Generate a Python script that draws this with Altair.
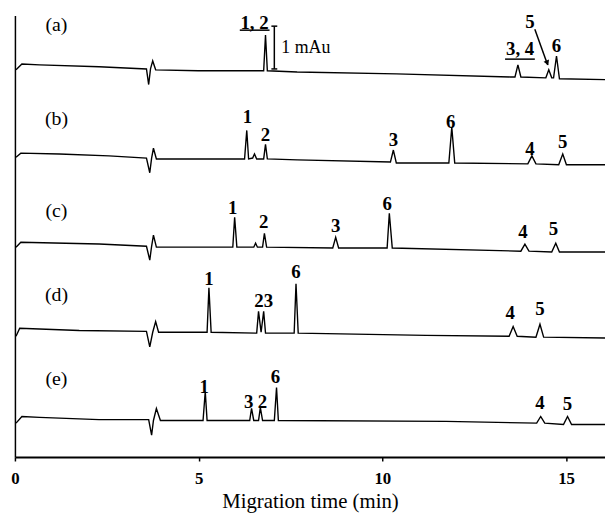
import altair as alt
import pandas as pd

# ---- traces (time in min, signal in mAU incl. vertical offset) ----
a_t = [0.03, 0.19, 0.67, 2.29, 3.58, 3.64, 3.69, 3.75, 3.83, 4.99, 6.77, 6.82, 6.87, 7.68, 10.38, 13.48, 13.61, 13.69, 13.77, 14.45, 14.53, 14.61, 14.66, 14.74, 14.82, 16.06]
a_v = [8.69, 8.82, 8.80, 8.76, 8.71, 8.36, 8.71, 8.89, 8.69, 8.67, 8.67, 9.47, 8.67, 8.64, 8.60, 8.53, 8.53, 8.80, 8.53, 8.51, 8.69, 8.51, 8.51, 9.00, 8.49, 8.47]

b_t = [0.03, 0.16, 1.21, 2.56, 3.58, 3.67, 3.72, 3.77, 3.85, 6.25, 6.31, 6.36, 6.47, 6.52, 6.58, 6.77, 6.82, 6.87, 7.68, 10.22, 10.30, 10.38, 11.81, 11.89, 11.97, 13.96, 14.07, 14.18, 14.80, 14.91, 15.01, 16.06]
b_v = [6.73, 6.82, 6.80, 6.76, 6.71, 6.38, 6.71, 6.93, 6.69, 6.69, 7.33, 6.69, 6.71, 6.80, 6.69, 6.69, 7.02, 6.69, 6.67, 6.62, 6.89, 6.60, 6.60, 7.40, 6.60, 6.58, 6.76, 6.58, 6.56, 6.80, 6.56, 6.56]

c_t = [0.03, 0.16, 2.29, 3.58, 3.67, 3.72, 3.77, 3.85, 5.93, 5.98, 6.04, 6.50, 6.55, 6.60, 6.74, 6.79, 6.85, 8.65, 8.73, 8.81, 10.13, 10.19, 10.27, 13.77, 13.88, 13.99, 14.61, 14.72, 14.82, 16.06]
c_v = [4.71, 4.82, 4.78, 4.73, 4.42, 4.73, 4.98, 4.71, 4.71, 5.38, 4.71, 4.71, 4.80, 4.71, 4.71, 5.02, 4.71, 4.69, 4.93, 4.69, 4.69, 5.47, 4.69, 4.62, 4.78, 4.62, 4.60, 4.80, 4.60, 4.60]

d_t = [0.03, 0.13, 1.75, 3.58, 3.67, 3.75, 3.83, 3.91, 5.23, 5.28, 5.34, 6.58, 6.63, 6.70, 6.77, 6.82, 7.60, 7.65, 7.71, 11.19, 13.45, 13.56, 13.67, 14.18, 14.29, 14.39, 16.06]
d_v = [2.71, 2.89, 2.84, 2.82, 2.47, 2.80, 3.04, 2.80, 2.80, 3.80, 2.80, 2.78, 3.27, 2.80, 3.27, 2.78, 2.78, 3.89, 2.78, 2.73, 2.71, 2.93, 2.71, 2.69, 2.98, 2.69, 2.67]

e_t = [0.03, 0.19, 0.67, 2.29, 3.64, 3.72, 3.77, 3.85, 3.96, 5.12, 5.18, 5.23, 6.39, 6.44, 6.50, 6.63, 6.68, 6.74, 7.06, 7.12, 7.17, 11.73, 14.20, 14.31, 14.42, 14.93, 15.04, 15.15, 16.06]
e_v = [0.76, 0.91, 0.89, 0.84, 0.84, 0.49, 0.82, 1.09, 0.82, 0.82, 1.47, 0.82, 0.82, 1.09, 0.82, 0.82, 1.11, 0.82, 0.82, 1.56, 0.82, 0.80, 0.76, 0.91, 0.76, 0.73, 0.91, 0.73, 0.73]

# ---- labels ----
trace_names = ["(a)", "(b)", "(c)", "(d)", "(e)"]
trace_label_t = [1.13, 1.13, 1.13, 1.13, 1.13]
trace_label_v = [9.69, 7.58, 5.53, 3.64, 1.76]

peak_text = ["1, 2", "3, 4", "5", "6",
             "1", "2", "3", "6", "4", "5",
             "1", "2", "3", "6", "4", "5",
             "1", "23", "6", "4", "5",
             "1", "3", "2", "6", "4", "5"]
peak_t = [6.52, 13.75, 14.02, 14.74,
          6.33, 6.82, 10.30, 11.86, 14.02, 14.91,
          5.93, 6.77, 8.73, 10.13, 13.83, 14.66,
          5.28, 6.77, 7.65, 13.48, 14.29,
          5.15, 6.36, 6.74, 7.09, 14.29, 15.04]
peak_v = [9.73, 9.16, 9.76, 9.22,
          7.64, 7.22, 7.11, 7.51, 6.91, 7.07,
          5.58, 5.27, 5.18, 5.67, 5.04, 5.11,
          4.00, 3.49, 4.16, 3.24, 3.33,
          1.58, 1.24, 1.24, 1.80, 1.22, 1.18]

# rules: underlines, scale bar with caps, arrow shaft
rule_t = [6.12, 13.34, 7.06, 6.98, 6.98, 14.15]
rule_t2 = [6.93, 14.15, 7.06, 7.14, 7.14, 14.50]
rule_v = [9.58, 8.93, 9.67, 9.67, 8.71, 9.60]
rule_v2 = [9.58, 8.93, 8.71, 9.67, 8.71, 8.80]

scale_text = ["1 mAu"]
scale_text_t = [7.25]
scale_text_v = [9.18]

arrow_head_t = [14.48]
arrow_head_v = [8.86]

# ---- tables ----
rows = []
for name, ts, vs in [("a", a_t, a_v), ("b", b_t, b_v), ("c", c_t, c_v), ("d", d_t, d_v), ("e", e_t, e_v)]:
    for i, (t, v) in enumerate(zip(ts, vs)):
        rows.append({"trace": name, "i": i, "t": t, "v": v})
df = pd.DataFrame(rows)

df_tl = pd.DataFrame({"t": trace_label_t, "v": trace_label_v, "text": trace_names})
df_pl = pd.DataFrame({"t": peak_t, "v": peak_v, "text": peak_text})
df_rules = pd.DataFrame({"t": rule_t, "t2": rule_t2, "v": rule_v, "v2": rule_v2})
df_st = pd.DataFrame({"t": scale_text_t, "v": scale_text_v, "text": scale_text})
df_ah = pd.DataFrame({"t": arrow_head_t, "v": arrow_head_v})

FONT = "Liberation Serif, Times New Roman, serif"
xs = alt.Scale(domain=[0, 16.06], nice=False, zero=False)
ys = alt.Scale(domain=[0, 9.91], nice=False, zero=False)

x_axis = alt.Axis(
    values=[0, 5, 10, 15], title="Migration time (min)", grid=False,
    domainColor="black", domainWidth=2, tickColor="black", tickWidth=1.5, tickSize=4,
    labelFont=FONT, labelFontWeight="bold", labelFontSize=17, labelColor="black",
    labelPadding=10, labelFlush=False,
    titleFont=FONT, titleFontSize=21, titleFontWeight="normal", titleColor="black",
    titlePadding=4)
y_axis = alt.Axis(title=None, labels=False, ticks=False, grid=False,
                  domainColor="black", domainWidth=1.5)

X = alt.X("t:Q", scale=xs, axis=x_axis, title="Migration time (min)")
Y = alt.Y("v:Q", scale=ys, axis=y_axis, title=None)

lines = alt.Chart(df).mark_line(color="black", strokeWidth=1.4).encode(
    x=X, y=Y, detail="trace:N", order="i:Q")

trace_labels = alt.Chart(df_tl).mark_text(
    font=FONT, fontSize=20, color="black", align="center", baseline="middle"
).encode(x=X, y=Y, text="text:N")

peak_labels = alt.Chart(df_pl).mark_text(
    font=FONT, fontSize=19, fontWeight="bold", color="black", align="center", baseline="middle"
).encode(x=X, y=Y, text="text:N")

rules = alt.Chart(df_rules).mark_rule(color="black", strokeWidth=1.5).encode(
    x=X, x2="t2:Q", y=Y, y2="v2:Q")

scale_label = alt.Chart(df_st).mark_text(
    font=FONT, fontSize=18, color="black", align="left", baseline="middle"
).encode(x=X, y=Y, text="text:N")

arrow_head = alt.Chart(df_ah).mark_point(
    shape="triangle", angle=157, size=35, filled=True, color="black", opacity=1
).encode(x=X, y=Y)

chart = alt.layer(lines, rules, trace_labels, peak_labels, scale_label, arrow_head).properties(
    width=596, height=446,
    padding={"left": 7, "top": 5, "right": 0, "bottom": 55},
    autosize=alt.AutoSizeParams(type="none"),
    background="white",
).configure_view(stroke=None)

chart.save("out.html", embed_options={"renderer": "svg", "actions": False})
